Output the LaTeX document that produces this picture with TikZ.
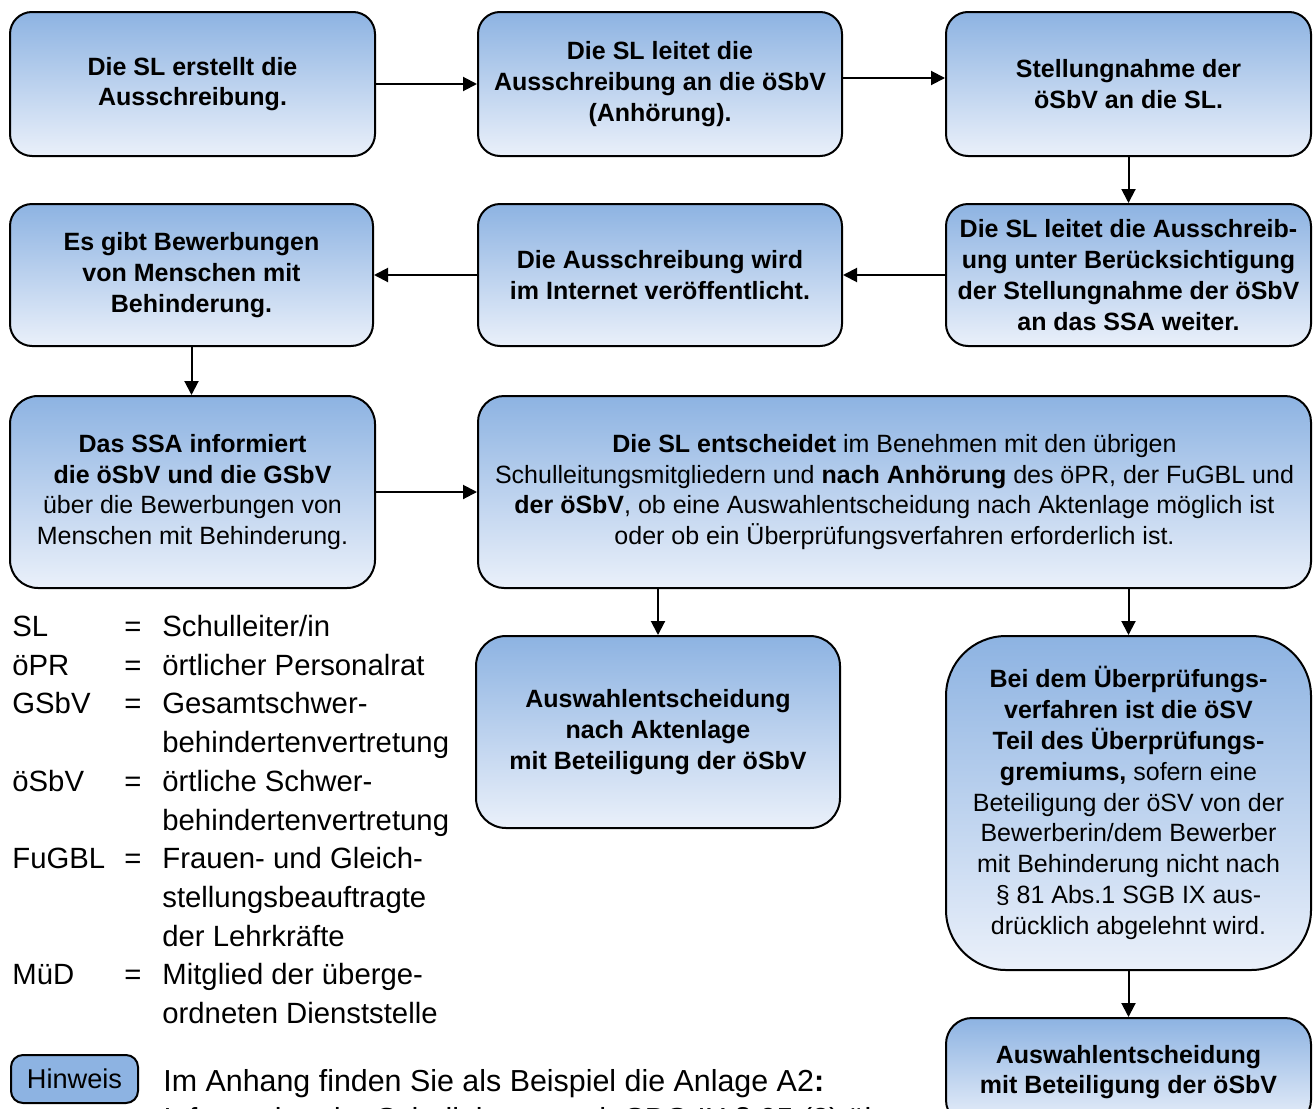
\documentclass[tikz,border=0pt]{standalone}
\usepackage{fontspec}
\setmainfont{Liberation Sans}
\usetikzlibrary{arrows.meta}
\definecolor{boxtop}{RGB}{141,179,226}
\definecolor{boxbot}{RGB}{234,240,250}
\definecolor{hinfill}{RGB}{141,179,226}
\tikzset{
  box/.style={draw=black, line width=1pt, rounded corners=11pt,
    top color=boxtop, bottom color=boxbot, align=center, inner sep=0pt,
    font=\fontsize{12.5}{15.4}\selectfont, text=black},
  boldbox/.style={box, font=\fontsize{12.5}{15.4}\selectfont\bfseries},
  flow/.style={line width=1pt, -{Triangle[length=7pt,width=7pt]}},
  legtext/.style={inner sep=0pt, anchor=base west, font=\fontsize{14.65}{17}\selectfont},
  legeq/.style={inner sep=0pt, anchor=base, font=\fontsize{14.65}{17}\selectfont},
}
\begin{document}
\begin{tikzpicture}[x=0.5pt,y=-0.5pt]
\useasboundingbox (0,0) rectangle (1316,1108);
\clip (0,0) rectangle (1316,1108);

% row 1
\node[boldbox, minimum width=182.5pt, minimum height=72pt] (b1) at (192.5,84)
  {Die SL erstellt die\\Ausschreibung.};
\node[boldbox, minimum width=182pt, minimum height=72pt] (b2) at (660,84)
  {Die SL leitet die\\Ausschreibung an die öSbV\\(Anhörung).};
\node[boldbox, minimum width=182.5pt, minimum height=72pt] (b3) at (1128.5,84)
  {Stellungnahme der\\öSbV an die SL.};
% row 2
\node[boldbox, minimum width=181.5pt, minimum height=71pt] (b4) at (191.5,275)
  {Es gibt Bewerbungen\\von Menschen mit\\Behinderung.};
\node[boldbox, minimum width=182pt, minimum height=71pt] (b5) at (660,275)
  {Die Ausschreibung wird\\im Internet veröffentlicht.};
\node[boldbox, minimum width=182.5pt, minimum height=71pt] (b6) at (1128.5,275)
  {Die SL leitet die Ausschreib-\\ung unter Berücksichtigung\\der Stellungnahme der öSbV\\an das SSA weiter.};
% row 3
\node[box, minimum width=182.5pt, minimum height=96pt, rounded corners=14pt] (b7) at (192.5,492)
  {\textbf{Das SSA informiert}\\\textbf{die öSbV und die GSbV}\\über die Bewerbungen von\\Menschen mit Behinderung.};
\node[box, minimum width=416.5pt, minimum height=96pt, rounded corners=13pt] (b8) at (894.5,492)
  {\textbf{Die SL entscheidet} im Benehmen mit den übrigen\\Schulleitungsmitgliedern und \textbf{nach Anhörung} des öPR, der FuGBL und\\\textbf{der öSbV}, ob eine Auswahlentscheidung nach Aktenlage möglich ist\\oder ob ein Überprüfungsverfahren erforderlich ist.};
% row 4
\node[boldbox, minimum width=182pt, minimum height=96pt, rounded corners=15pt] (b9) at (658,732)
  {Auswahlentscheidung\\nach Aktenlage\\mit Beteiligung der öSbV};
\node[box, minimum width=182.5pt, minimum height=167pt, rounded corners=30pt] (b10) at (1128.5,803)
  {\textbf{Bei dem Überprüfungs-}\\\textbf{verfahren ist die öSV}\\\textbf{Teil des Überprüfungs-}\\\textbf{gremiums,} sofern eine\\Beteiligung der öSV von der\\Bewerberin/dem Bewerber\\mit Behinderung nicht nach\\§ 81 Abs.1 SGB IX aus-\\drücklich abgelehnt wird.};
\node[boldbox, minimum width=182.5pt, minimum height=54pt, rounded corners=13pt] (b11) at (1128.5,1072)
  {Auswahlentscheidung\\mit Beteiligung der öSbV};

% connectors
\draw[flow] (b1) -- (b2);
\draw[flow] ([yshift=3pt]b2.east) -- ([yshift=3pt]b3.west);
\draw[flow] (b3) -- (b6);
\draw[flow] (b6) -- (b5);
\draw[flow] (b5) -- (b4);
\draw[flow] (b4.south) -- (b4.south |- b7.north);
\draw[flow] (b7) -- (b8);
\draw[flow] (b9.north |- b8.south) -- (b9.north);
\draw[flow] (b10.north |- b8.south) -- (b10.north);
\draw[flow] (b10) -- (b11);

% legend
\node[legtext] (l0a) at (12,636.5) {SL};
\node[legeq] (l0b) at (133,636.5) {=};
\node[legtext] (l0c) at (162,636.5) {Schulleiter/in};
\node[legtext] (l1a) at (12,675.2) {öPR};
\node[legeq] (l1b) at (133,675.2) {=};
\node[legtext] (l1c) at (162,675.2) {örtlicher Personalrat};
\node[legtext] (l2a) at (12,713.9) {GSbV};
\node[legeq] (l2b) at (133,713.9) {=};
\node[legtext] (l2c) at (162,713.9) {Gesamtschwer-};
\node[legtext] (l3c) at (162,752.6) {behindertenvertretung};
\node[legtext] (l4a) at (12,791.3) {öSbV};
\node[legeq] (l4b) at (133,791.3) {=};
\node[legtext] (l4c) at (162,791.3) {örtliche Schwer-};
\node[legtext] (l5c) at (162,830.0) {behindertenvertretung};
\node[legtext] (l6a) at (12,868.7) {FuGBL};
\node[legeq] (l6b) at (133,868.7) {=};
\node[legtext] (l6c) at (162,868.7) {Frauen- und Gleich-};
\node[legtext] (l7c) at (162,907.4) {stellungsbeauftragte};
\node[legtext] (l8c) at (162,946.1) {der Lehrkräfte};
\node[legtext] (l9a) at (12,984.8) {MüD};
\node[legeq] (l9b) at (133,984.8) {=};
\node[legtext] (l9c) at (162,984.8) {Mitglied der überge-};
\node[legtext] (l10c) at (162,1023.5) {ordneten Dienststelle};

% Hinweis
\node[draw=black, line width=1pt, fill=hinfill, rounded corners=6pt,
  minimum width=63.5pt, minimum height=24pt, inner sep=0pt,
  font=\fontsize{13.6}{16}\selectfont] (hin) at (74.5,1079) {Hinweis};
\node[legtext, font=\fontsize{15.2}{17}\selectfont] (h1) at (163,1091)
  {Im Anhang finden Sie als Beispiel die Anlage A2\textbf{:}};
\node[legtext, font=\fontsize{15.2}{17}\selectfont] (h2) at (163,1129.7)
  {Information der Schulleitung nach SBG IX § 95 (2) über};
\end{tikzpicture}
\end{document}
